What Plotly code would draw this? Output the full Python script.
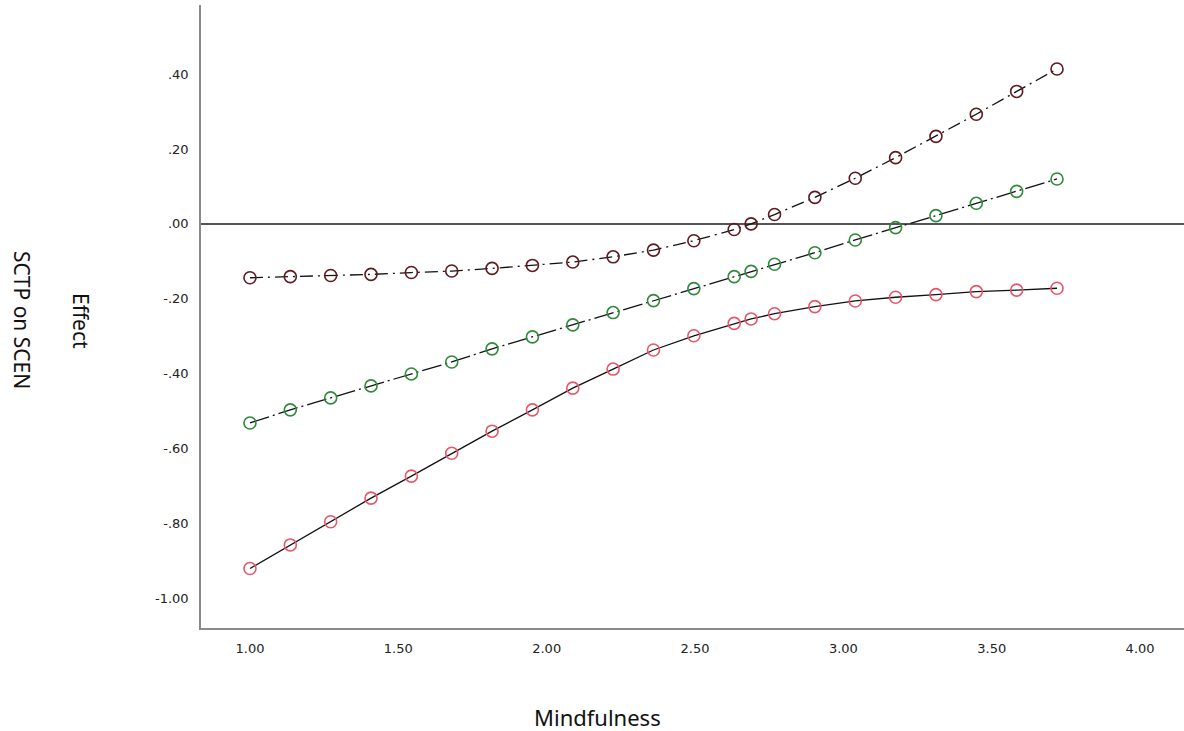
import plotly.graph_objects as go

# Mindfulness values (moderator), incl. Johnson-Neyman point 2.689
mindfulness = [1.00, 1.136, 1.272, 1.408, 1.544, 1.68, 1.816, 1.952, 2.088, 2.224,
               2.36, 2.496, 2.632, 2.689, 2.768, 2.904, 3.04, 3.176, 3.312, 3.448,
               3.584, 3.72]

upper_ci = [-0.144, -0.141, -0.138, -0.135, -0.130, -0.126, -0.119, -0.111, -0.102, -0.088,
            -0.070, -0.045, -0.015, 0.000, 0.025, 0.071, 0.122, 0.177, 0.234, 0.293,
            0.354, 0.414]

effect = [-0.532, -0.497, -0.465, -0.433, -0.401, -0.369, -0.334, -0.302, -0.270, -0.237,
          -0.205, -0.173, -0.141, -0.127, -0.108, -0.077, -0.043, -0.010, 0.022, 0.055,
          0.087, 0.120]

lower_ci = [-0.921, -0.858, -0.796, -0.733, -0.674, -0.613, -0.554, -0.497, -0.439, -0.388,
            -0.337, -0.299, -0.266, -0.254, -0.240, -0.221, -0.206, -0.196, -0.189, -0.181,
            -0.177, -0.172]

x_ticks = [1.0, 1.5, 2.0, 2.5, 3.0, 3.5, 4.0]
x_ticktext = ["1.00", "1.50", "2.00", "2.50", "3.00", "3.50", "4.00"]
y_ticks = [0.4, 0.2, 0.0, -0.2, -0.4, -0.6, -0.8, -1.0]
y_ticktext = [".40", ".20", ".00", "-.20", "-.40", "-.60", "-.80", "-1.00"]

fig = go.Figure()

def add_series(y, color, dash):
    fig.add_trace(go.Scatter(
        x=mindfulness, y=y, mode="lines+markers",
        line=dict(color="#111111", width=1.3, dash=dash),
        marker=dict(symbol="circle-open", size=12, color=color, line=dict(width=1.6)),
        showlegend=False, hoverinfo="x+y",
    ))

add_series(lower_ci, "#e8566a", "solid")
add_series(effect, "#2f8a3c", "20px,4px,2px,4px")
add_series(upper_ci, "#5e1a1e", "13px,5px,2px,5px")

tick_font = dict(family="DejaVu Sans", size=13, color="#222222")

fig.update_layout(
    width=1184, height=731,
    margin=dict(l=201, r=0, t=5, b=103),
    paper_bgcolor="white", plot_bgcolor="white",
    xaxis=dict(
        range=[0.835, 4.148], tickmode="array", tickvals=x_ticks, ticktext=x_ticktext,
        showgrid=False, zeroline=False, showline=True, linecolor="#8a8a8a", linewidth=1.5,
        ticks="", tickfont=tick_font, ticklabelstandoff=8,
    ),
    yaxis=dict(
        range=[-1.08, 0.585], tickmode="array", tickvals=y_ticks, ticktext=y_ticktext,
        showgrid=False, zeroline=True, zerolinecolor="#555555", zerolinewidth=1.5,
        showline=True, linecolor="#8a8a8a", linewidth=1.5,
        ticks="", tickfont=tick_font, ticklabelstandoff=8,
    ),
    annotations=[
        dict(text="Mindfulness", xref="paper", yref="paper", x=(597 - 201) / 983, y=-(717 - 628) / 623,
             xanchor="center", yanchor="middle", showarrow=False,
             font=dict(family="Noto Sans", size=22, color="#111111")),
        dict(text="Effect", xref="paper", yref="paper", x=-(201 - 81) / 983, y=(628 - 321) / 623,
             xanchor="center", yanchor="middle", showarrow=False, textangle=90,
             font=dict(family="Noto Sans", size=21, color="#111111")),
        dict(text="SCTP on SCEN", xref="paper", yref="paper", x=-(201 - 22) / 983, y=(628 - 320) / 623,
             xanchor="center", yanchor="middle", showarrow=False, textangle=90,
             font=dict(family="Noto Sans", size=21, color="#111111")),
    ],
)

fig.write_html("out.html", config={"displayModeBar": False},
               post_script="document.body.style.margin='0';")
